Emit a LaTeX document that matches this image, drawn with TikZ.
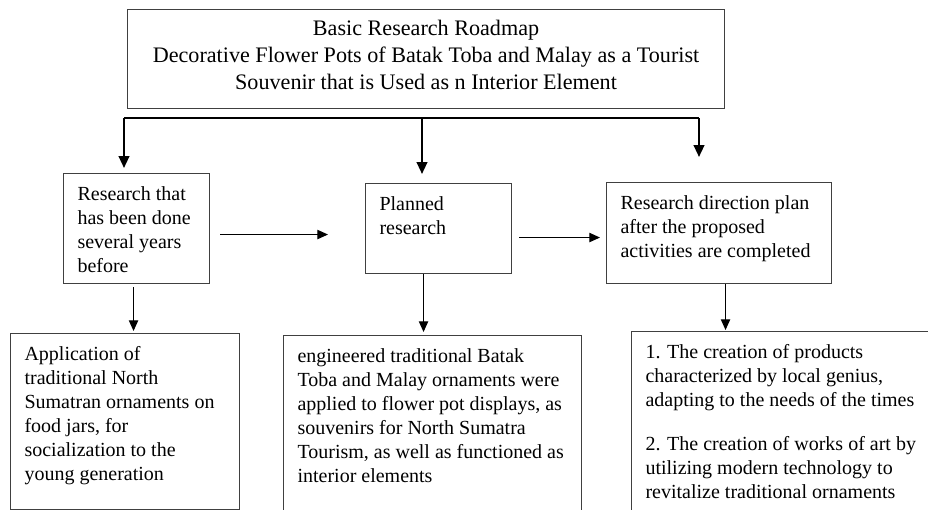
\documentclass[tikz,border=0pt]{standalone}
\usepackage{fontspec}
\setmainfont{Liberation Serif}
\usetikzlibrary{arrows.meta,calc}

\tikzset{
  box/.style={draw=black!75, line width=0.8pt, anchor=north west,
    inner xsep=10.5pt, inner ysep=9.75pt, font=\fontsize{15}{18}\selectfont},
  bar/.style={line width=1.6pt, -{Triangle[width=8pt,length=9pt]}},
  link/.style={line width=0.8pt, -{Triangle[width=7pt,length=8pt]}}
}

\begin{document}
\begin{tikzpicture}[x=0.75pt,y=-0.75pt]
  \useasboundingbox (0,0) rectangle (928,510);

  % Title box
  \node[draw=black!75, line width=0.8pt, anchor=north west, minimum width=447.75pt,
    minimum height=74.25pt, align=center, font=\fontsize{16.6}{20.25}\selectfont]
    (title) at (127,9)
    {Basic Research Roadmap\\
     Decorative Flower Pots of Batak Toba and Malay as a Tourist\\
     Souvenir that is Used as n Interior Element\\[-14.25pt]\mbox{}};

  % Middle row
  \node[box] (past) at (63,173)
    {\parbox[c][63pt][t]{88.5pt}{\raggedright Research that\\ has been done\\ several years\\ before}};
  \node[box] (planned) at (365,183)
    {\parbox[c][48pt][t]{88.5pt}{\raggedright Planned\\ research}};
  \node[box] (plan) at (606,182)
    {\parbox[c][56.25pt][t]{147.75pt}{\raggedright Research direction plan\\ after the proposed\\ activities are completed}};

  % Bottom row (runs off the page)
  \node[box] (app) at (10,333)
    {\parbox[c][112.5pt][t]{150.75pt}{\raggedright Application of\\ traditional North\\ Sumatran ornaments on\\ food jars, for\\ socialization to the\\ young generation}};
  \node[box] (eng) at (283,335)
    {\parbox[c][149.25pt][t]{202.5pt}{\raggedright engineered traditional Batak\\ Toba and Malay ornaments were\\ applied to flower pot displays, as\\ souvenirs for North Sumatra\\ Tourism, as well as functioned as\\ interior elements}};
  \node[box] (creation) at (631,331)
    {\parbox[c][152.25pt][t]{225.75pt}{\raggedright 1. The creation of products\\ characterized by local genius,\\ adapting to the needs of the times\\[15pt] 2. The creation of works of art by\\ utilizing modern technology to\\ revitalize traditional ornaments}};

  % Bracket under the title
  \coordinate (barL) at (124,118);
  \coordinate (barM) at (422,118);
  \coordinate (barR) at (699,118);
  \draw[line width=1.6pt] (barL) -- (barR);
  \foreach \c/\t/\s in {barL/past/3.75pt, barM/planned/6.75pt, barR/plan/18.75pt} {
    \draw[bar, shorten >=\s] (\c) -- (\c |- \t.north);
  }

  % Arrows across
  \draw[link] ($(past.east)+(10,6)$) -- ($(planned.west)+(-37,6)$);
  \draw[link] ($(planned.east)+(7,9)$) -- ($(plan.west |- planned.east)+(-6,9)$);

  % Arrows down
  \draw[link] ($(past.south)+(-3,3)$) -- ($(past.south |- app.north)+(-3,-2)$);
  \draw[link] ($(planned.south)+(-15,0)$) -- ($(planned.south |- eng.north)+(-15,-3)$);
  \draw[link] ($(plan.south)+(6.5,0)$) -- ($(plan.south |- creation.north)+(6.5,-1)$);
\end{tikzpicture}
\end{document}
